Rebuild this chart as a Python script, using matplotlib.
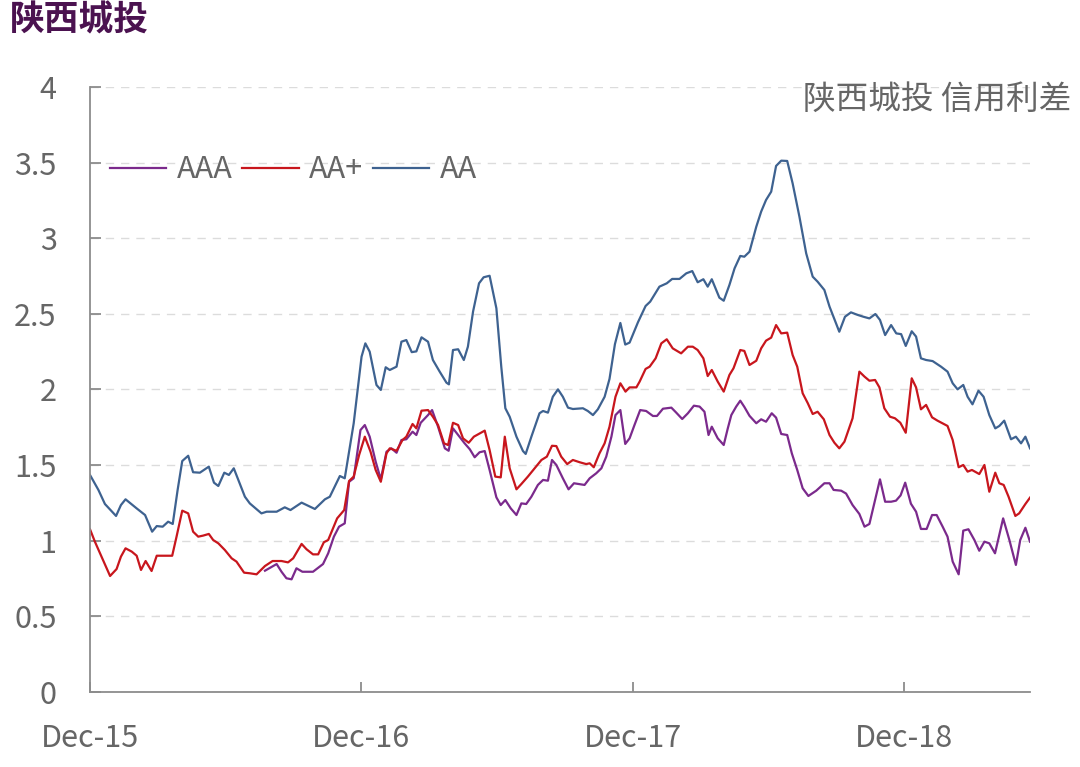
import numpy as np
import pandas as pd
import matplotlib
matplotlib.use("Agg")
import matplotlib.pyplot as plt

plt.rcParams['font.family'] = ['Noto Sans CJK SC', 'DejaVu Sans']

# ---- data (time in years since the first observation, early Dec-2015) ----
start_date = "2015-12-04"
tick_labels = ["Dec-15", "Dec-16", "Dec-17", "Dec-18"]
series_names = ["AAA", "AA+", "AA"]

aa_t = [0.000, 0.031, 0.055, 0.096, 0.114, 0.131, 0.172, 0.203, 0.229, 0.246, 0.268, 0.288, 0.305, 0.323,
        0.340, 0.362, 0.380, 0.405, 0.438, 0.457, 0.473, 0.495, 0.512, 0.530, 0.571, 0.589, 0.632, 0.651,
        0.688, 0.718, 0.739, 0.780, 0.829, 0.866, 0.884, 0.921, 0.939, 0.958, 0.972, 0.988, 1.001, 1.015,
        1.031, 1.056, 1.072, 1.090, 1.105, 1.130, 1.148, 1.166, 1.186, 1.203, 1.222, 1.246, 1.264, 1.289,
        1.314, 1.323, 1.338, 1.357, 1.378, 1.393, 1.412, 1.434, 1.451, 1.473, 1.498, 1.516, 1.531, 1.547,
        1.572, 1.596, 1.606, 1.627, 1.657, 1.670, 1.688, 1.706, 1.725, 1.743, 1.762, 1.780, 1.817, 1.835,
        1.854, 1.872, 1.897, 1.915, 1.935, 1.955, 1.973, 1.989, 2.020, 2.048, 2.065, 2.099, 2.126, 2.146,
        2.173, 2.198, 2.220, 2.240, 2.261, 2.277, 2.292, 2.320, 2.336, 2.357, 2.376, 2.397, 2.412, 2.431,
        2.456, 2.474, 2.492, 2.511, 2.529, 2.548, 2.570, 2.590, 2.615, 2.640, 2.664, 2.682, 2.707, 2.726,
        2.762, 2.783, 2.805, 2.830, 2.851, 2.873, 2.895, 2.912, 2.931, 2.953, 2.972, 2.990, 3.007, 3.029,
        3.045, 3.063, 3.082, 3.106, 3.137, 3.161, 3.180, 3.198, 3.219, 3.235, 3.253, 3.275, 3.294, 3.315,
        3.337, 3.352, 3.370, 3.395, 3.413, 3.432, 3.448, 3.465]
aa_v = [1.435, 1.336, 1.243, 1.164, 1.236, 1.274, 1.214, 1.170, 1.060, 1.097, 1.093, 1.126, 1.111, 1.336,
        1.527, 1.562, 1.453, 1.450, 1.490, 1.384, 1.362, 1.450, 1.435, 1.479, 1.291, 1.247, 1.181, 1.192,
        1.192, 1.221, 1.203, 1.252, 1.210, 1.274, 1.291, 1.428, 1.413, 1.622, 1.776, 2.019, 2.217, 2.305,
        2.250, 2.030, 1.997, 2.147, 2.129, 2.151, 2.316, 2.327, 2.247, 2.252, 2.345, 2.316, 2.195, 2.118,
        2.045, 2.034, 2.261, 2.266, 2.195, 2.283, 2.515, 2.702, 2.742, 2.752, 2.537, 2.151, 1.876, 1.820,
        1.688, 1.593, 1.574, 1.688, 1.843, 1.858, 1.847, 1.952, 2.001, 1.952, 1.880, 1.871, 1.876, 1.858,
        1.831, 1.869, 1.952, 2.070, 2.300, 2.440, 2.297, 2.310, 2.445, 2.552, 2.581, 2.680, 2.702, 2.731,
        2.731, 2.768, 2.783, 2.709, 2.729, 2.680, 2.729, 2.607, 2.587, 2.691, 2.801, 2.883, 2.878, 2.911,
        3.076, 3.176, 3.253, 3.308, 3.478, 3.513, 3.511, 3.363, 3.143, 2.900, 2.746, 2.713, 2.658, 2.548,
        2.382, 2.481, 2.510, 2.493, 2.481, 2.470, 2.499, 2.460, 2.360, 2.426, 2.371, 2.366, 2.288, 2.385,
        2.350, 2.206, 2.195, 2.188, 2.151, 2.118, 2.041, 2.001, 2.030, 1.952, 1.902, 1.992, 1.952, 1.831,
        1.743, 1.759, 1.794, 1.671, 1.688, 1.644, 1.688, 1.611]

aap_t = [0.000, 0.018, 0.037, 0.074, 0.098, 0.114, 0.131, 0.154, 0.172, 0.188, 0.205, 0.227, 0.246, 0.303,
         0.319, 0.340, 0.362, 0.380, 0.399, 0.417, 0.438, 0.454, 0.473, 0.497, 0.522, 0.540, 0.568, 0.589,
         0.614, 0.645, 0.673, 0.706, 0.730, 0.749, 0.780, 0.798, 0.822, 0.841, 0.862, 0.878, 0.911, 0.937,
         0.955, 0.972, 0.992, 1.013, 1.034, 1.053, 1.072, 1.093, 1.105, 1.130, 1.152, 1.166, 1.189, 1.203,
         1.222, 1.246, 1.264, 1.283, 1.305, 1.320, 1.338, 1.357, 1.375, 1.396, 1.415, 1.455, 1.473, 1.494,
         1.514, 1.529, 1.547, 1.572, 1.590, 1.614, 1.639, 1.664, 1.684, 1.703, 1.719, 1.737, 1.759, 1.780,
         1.805, 1.829, 1.842, 1.857, 1.878, 1.897, 1.915, 1.937, 1.955, 1.974, 1.989, 2.014, 2.026, 2.048,
         2.063, 2.085, 2.106, 2.126, 2.148, 2.179, 2.204, 2.222, 2.240, 2.261, 2.277, 2.292, 2.314, 2.336,
         2.357, 2.372, 2.397, 2.412, 2.431, 2.456, 2.474, 2.492, 2.511, 2.529, 2.548, 2.570, 2.590, 2.607,
         2.627, 2.646, 2.664, 2.682, 2.705, 2.726, 2.744, 2.762, 2.781, 2.811, 2.836, 2.855, 2.873, 2.894,
         2.910, 2.928, 2.949, 2.967, 2.987, 3.007, 3.029, 3.045, 3.063, 3.082, 3.104, 3.124, 3.161, 3.180,
         3.202, 3.219, 3.235, 3.251, 3.278, 3.297, 3.315, 3.337, 3.352, 3.368, 3.386, 3.411, 3.425, 3.448,
         3.465]
aap_v = [1.076, 0.994, 0.917, 0.767, 0.813, 0.895, 0.950, 0.928, 0.901, 0.807, 0.866, 0.800, 0.901, 0.901,
         1.027, 1.199, 1.181, 1.060, 1.027, 1.034, 1.045, 1.005, 0.983, 0.939, 0.884, 0.862, 0.789, 0.785,
         0.778, 0.833, 0.866, 0.866, 0.857, 0.884, 0.979, 0.944, 0.910, 0.910, 0.990, 1.005, 1.148, 1.203,
         1.395, 1.424, 1.567, 1.688, 1.589, 1.468, 1.390, 1.578, 1.611, 1.595, 1.666, 1.688, 1.772, 1.743,
         1.860, 1.864, 1.820, 1.765, 1.644, 1.633, 1.780, 1.765, 1.677, 1.648, 1.688, 1.728, 1.600, 1.424,
         1.419, 1.688, 1.479, 1.340, 1.375, 1.424, 1.479, 1.534, 1.556, 1.628, 1.626, 1.556, 1.507, 1.534,
         1.519, 1.507, 1.512, 1.486, 1.578, 1.644, 1.754, 1.952, 2.041, 1.986, 2.014, 2.014, 2.052, 2.136,
         2.151, 2.206, 2.305, 2.332, 2.272, 2.239, 2.283, 2.283, 2.261, 2.206, 2.089, 2.129, 2.052, 1.986,
         2.096, 2.140, 2.261, 2.255, 2.162, 2.190, 2.272, 2.323, 2.343, 2.426, 2.371, 2.376, 2.228, 2.151,
         1.975, 1.909, 1.838, 1.853, 1.803, 1.699, 1.648, 1.611, 1.655, 1.810, 2.118, 2.085, 2.058, 2.063,
         2.014, 1.876, 1.820, 1.810, 1.780, 1.714, 2.074, 2.014, 1.869, 1.898, 1.816, 1.794, 1.759, 1.666,
         1.486, 1.501, 1.457, 1.468, 1.441, 1.501, 1.324, 1.450, 1.380, 1.369, 1.291, 1.164, 1.181, 1.243,
         1.285]

aaa_t = [0.645, 0.688, 0.706, 0.724, 0.743, 0.761, 0.783, 0.822, 0.859, 0.878, 0.899, 0.918, 0.939, 0.955,
         0.972, 0.997, 1.013, 1.031, 1.053, 1.072, 1.093, 1.111, 1.130, 1.148, 1.166, 1.189, 1.203, 1.219,
         1.246, 1.261, 1.283, 1.308, 1.322, 1.338, 1.357, 1.381, 1.400, 1.418, 1.436, 1.455, 1.473, 1.498,
         1.514, 1.531, 1.551, 1.572, 1.590, 1.608, 1.627, 1.651, 1.670, 1.688, 1.703, 1.719, 1.743, 1.764,
         1.784, 1.823, 1.842, 1.866, 1.885, 1.903, 1.922, 1.937, 1.955, 1.973, 1.989, 2.007, 2.028, 2.050,
         2.075, 2.090, 2.112, 2.143, 2.161, 2.183, 2.204, 2.226, 2.247, 2.265, 2.280, 2.292, 2.314, 2.336,
         2.351, 2.364, 2.382, 2.397, 2.412, 2.431, 2.456, 2.474, 2.492, 2.513, 2.529, 2.548, 2.570, 2.587,
         2.607, 2.627, 2.648, 2.677, 2.707, 2.726, 2.741, 2.769, 2.787, 2.811, 2.836, 2.855, 2.873, 2.894,
         2.912, 2.931, 2.953, 2.971, 2.988, 3.005, 3.026, 3.045, 3.063, 3.084, 3.104, 3.121, 3.143, 3.161,
         3.180, 3.202, 3.219, 3.238, 3.260, 3.278, 3.297, 3.315, 3.336, 3.366, 3.389, 3.413, 3.429, 3.448,
         3.465]
aaa_v = [0.802, 0.846, 0.795, 0.752, 0.745, 0.818, 0.795, 0.795, 0.846, 0.917, 1.027, 1.093, 1.115, 1.390,
         1.413, 1.732, 1.765, 1.688, 1.523, 1.406, 1.589, 1.611, 1.582, 1.666, 1.671, 1.721, 1.699, 1.780,
         1.831, 1.864, 1.754, 1.611, 1.595, 1.743, 1.699, 1.644, 1.605, 1.552, 1.585, 1.593, 1.468, 1.287,
         1.236, 1.269, 1.214, 1.170, 1.247, 1.243, 1.291, 1.369, 1.402, 1.397, 1.534, 1.501, 1.413, 1.340,
         1.380, 1.369, 1.413, 1.446, 1.479, 1.556, 1.688, 1.831, 1.864, 1.640, 1.677, 1.765, 1.864, 1.858,
         1.825, 1.825, 1.873, 1.880, 1.847, 1.805, 1.843, 1.893, 1.887, 1.853, 1.699, 1.754, 1.677, 1.633,
         1.743, 1.831, 1.887, 1.926, 1.885, 1.826, 1.777, 1.803, 1.787, 1.843, 1.814, 1.706, 1.699, 1.578,
         1.468, 1.347, 1.296, 1.331, 1.380, 1.380, 1.336, 1.331, 1.312, 1.236, 1.177, 1.093, 1.111, 1.269,
         1.406, 1.258, 1.258, 1.265, 1.300, 1.384, 1.245, 1.192, 1.078, 1.078, 1.170, 1.170, 1.093, 1.027,
         0.862, 0.778, 1.067, 1.076, 1.005, 0.934, 0.994, 0.983, 0.917, 1.148, 1.005, 0.840, 1.005, 1.086,
         0.994]

title_text = "陕西城投"
note_text = "陕西城投 信用利差"

# ---- plotting ----
t0 = pd.Timestamp(start_date)
def to_dates(t):
    return t0 + pd.to_timedelta(np.asarray(t) * 365.25, unit="D")

fig = plt.figure(figsize=(10.8, 7.67), dpi=100)
ax = fig.add_axes([90 / 1080, 1 - 692 / 767, 940 / 1080, 605 / 767])

colors = ["#7B2A8C", "#C8161D", "#3E6290"]
for (t, v), name, c in zip([(aaa_t, aaa_v), (aap_t, aap_v), (aa_t, aa_v)], series_names, colors):
    ax.plot(to_dates(t), v, color=c, lw=1.6, label=name)

ax.set_ylim(0, 4)
ax.set_yticks(np.arange(0, 4.01, 0.5))
ax.set_yticklabels(["0", "0.5", "1", "1.5", "2", "2.5", "3", "3.5", "4"])
ax.set_xlim(to_dates([0])[0], to_dates([aa_t[-1]])[0])
xt = to_dates([0, 1, 2, 3])
ax.set_xticks(xt)
ax.set_xticklabels(tick_labels)

ax.grid(axis="y", color="#dcdcdc", lw=1.0, ls=(0, (6, 5)))
ax.set_axisbelow(True)
for s in ["top", "right"]:
    ax.spines[s].set_visible(False)
for s in ["left", "bottom"]:
    ax.spines[s].set_color("#8c8c8c")
    ax.spines[s].set_linewidth(1.3)

tick_color = "#666666"
ax.tick_params(axis="y", direction="in", length=8, width=1.3, color="#8c8c8c",
               labelsize=22, labelcolor=tick_color, pad=24)
ax.tick_params(axis="x", direction="in", length=7, width=1.3, color="#8c8c8c",
               labelsize=22, labelcolor=tick_color, pad=22)

leg = ax.legend(loc="center left", bbox_to_anchor=(0.021, 0.863), ncol=3, frameon=False,
                fontsize=22, handlelength=1.85, handletextpad=0.35, columnspacing=0.3,
                borderpad=0, borderaxespad=0)
for txt in leg.get_texts():
    txt.set_color(tick_color)

fig.text(1071 / 1080, 1 - 100 / 767, note_text, ha="right", va="center", fontsize=23.5,
         color="#666666")
fig.text(10 / 1080, 1 - 20 / 767, title_text, ha="left", va="center", fontsize=25,
         fontweight="bold", color="#4B1250")

fig.savefig("out.png", dpi=100)
